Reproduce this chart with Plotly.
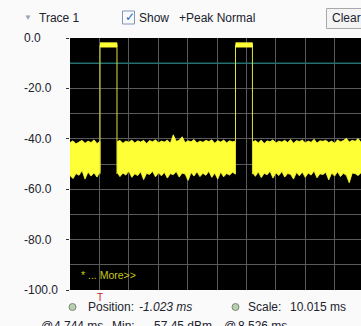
import numpy as np
import plotly.graph_objects as go

# ---------------- data ----------------
x_position_ms = -1.023          # left edge of the time window
x_scale_ms = 10.015            # full width (10 divisions)
y_tick_vals = [0, -20, -40, -60, -80, -100]
y_tick_text = ["0.0", "-20.0", "-40.0", "-60.0", "-80.0", "-100.0"]
threshold_db = -10.0

# bursts (GSM time slots)
pulse_start_ms = [0.0, 4.615]
pulse_end_ms = [0.577, 5.192]
pulse_top_db = [-1.9, -1.9]
pulse_bot_db = [-3.6, -3.6]

# noise floor envelope, segment 1 (before burst 1)
seg1_range = (-1.023, 0.0, 11)
seg1_upper = [-41.5, -40.8, -42.0, -41.2, -40.6, -41.8, -40.9, -41.5, -40.4, -41.9, -41.0]
seg1_lower = [-54.6, -55.8, -53.8, -54.5, -52.6, -56.0, -53.2, -54.8, -53.5, -55.2, -53.0]

# segment 2 (between bursts)
seg2_range = (0.577, 4.615, 41)
seg2_upper = [-41.2, -40.6, -41.8, -40.9, -41.4, -40.5, -41.7, -40.8, -41.3, -40.6,
              -41.9, -40.7, -41.2, -40.4, -41.6, -40.9, -41.3, -40.5, -41.8, -38.4,
              -41.0, -40.6, -39.2, -41.5, -40.8, -41.2, -40.3, -41.7, -40.9, -41.4,
              -40.6, -41.1, -40.4, -41.8, -40.7, -41.3, -40.5, -41.6, -40.8, -41.2, -40.9]
seg2_lower = [-53.2, -55.0, -53.6, -54.4, -52.8, -55.3, -53.9, -54.6, -53.1, -56.2,
              -53.7, -54.2, -52.9, -55.1, -53.5, -54.7, -53.3, -55.6, -53.8, -54.3,
              -53.0, -55.2, -53.6, -54.0, -56.5, -53.4, -54.8, -53.1, -55.0, -53.7,
              -54.5, -52.9, -55.3, -53.6, -56.0, -53.2, -55.1, -53.8, -54.4, -53.3, -54.0]

# segment 3 (after burst 2)
seg3_range = (5.192, 8.89, 38)
seg3_upper = [-41.3, -40.7, -41.6, -40.5, -41.9, -40.8, -41.2, -40.4, -41.7, -40.9,
              -41.3, -40.6, -41.5, -40.3, -41.8, -40.7, -41.1, -40.5, -41.6, -40.9,
              -41.4, -40.2, -41.7, -40.8, -41.0, -40.6, -41.5, -40.9, -41.8, -40.4,
              -41.2, -40.7, -39.8, -41.3, -40.6, -41.0, -39.9, -41.4]
seg3_lower = [-53.4, -54.9, -53.1, -55.4, -53.7, -54.3, -52.9, -55.6, -53.5, -54.6,
              -53.0, -55.2, -53.8, -54.1, -56.0, -53.4, -54.7, -53.2, -55.3, -53.6,
              -54.4, -52.8, -55.5, -53.9, -54.2, -53.3, -56.3, -53.6, -54.8, -53.1,
              -55.0, -53.7, -54.5, -57.45, -53.6, -53.8, -54.6, -53.5]

# ---------------- layout geometry ----------------
W, H = 361, 326
ML, MR, MT, MB = 70, 0, 38, 36
PW, PH = W - ML - MR, H - MT - MB
DIV_PX = 29.4
x_end = x_position_ms + PW / DIV_PX * (x_scale_ms / 10)


def px(x):
    return (x - ML) / PW


def py(y):
    return (H - MB - y) / PH


YEL = "#ffff36"
fig = go.Figure()

# threshold line
fig.add_trace(go.Scatter(x=[x_position_ms, x_end], y=[threshold_db, threshold_db], mode="lines",
                         line=dict(color="#23706e", width=1.5), hoverinfo="skip"))

# noise floor bands
for (a, b, n), up, lo in [(seg1_range, seg1_upper, seg1_lower),
                          (seg2_range, seg2_upper, seg2_lower),
                          (seg3_range, seg3_upper, seg3_lower)]:
    t = list(np.linspace(a, b, n))
    fig.add_trace(go.Scatter(x=t + t[::-1], y=up + lo[::-1], fill="toself", fillcolor=YEL,
                             mode="lines", line=dict(color=YEL, width=0.8), hoverinfo="skip"))

# bursts
for s, e, top, bot in zip(pulse_start_ms, pulse_end_ms, pulse_top_db, pulse_bot_db):
    fig.add_trace(go.Scatter(x=[s, s, e, e], y=[-54.0, (top + bot) / 2, (top + bot) / 2, -54.0],
                             mode="lines", line=dict(color="#e0e030", width=1), hoverinfo="skip"))
    fig.add_trace(go.Scatter(x=[s, e, e, s], y=[top, top, bot, bot], fill="toself", fillcolor=YEL,
                             mode="lines", line=dict(color=YEL, width=0.8), hoverinfo="skip"))

FONT = "Liberation Sans"
TXT = "#20222e"
ann = []
for v, t in zip(y_tick_vals, y_tick_text):
    ann.append(dict(x=px(22), xref="paper", y=v, yref="y", text=t, showarrow=False,
                    xanchor="left", yanchor="middle", font=dict(family=FONT, size=12, color=TXT)))


def label(x, y, text, size=12, color=TXT, italic=False, anchor="left"):
    if italic:
        text = "<i>" + text + "</i>"
    ann.append(dict(x=px(x), xref="paper", y=py(y), yref="paper", text=text, showarrow=False,
                    xanchor=anchor, yanchor="middle", font=dict(family=FONT, size=size, color=color)))


# top bar
label(22, 17, "▼", size=8, color="#9aa4ae")
label(37, 18, "Trace 1", size=12)
label(137, 18, "Show", size=12)
label(177, 18, "+Peak Normal", size=12)
label(330, 18, "Clear", size=12)
label(123, 17, "✓", size=12, color="#2f6fbf")

# inside plot
label(79, 275, "* ... More>>", size=10.5, color="#c8c81a")

# trigger marker
ann.append(dict(x=0.0, xref="x", y=py(290), yref="paper", text="T", showarrow=False,
                xanchor="center", yanchor="top", font=dict(family=FONT, size=10, color="#c81e1e")))

# bottom rows
label(86, 307, "Position:", size=12)
label(137, 307, "-1.023 ms", size=12, italic=True)
label(246, 307, "Scale:", size=12)
label(288, 307, "10.015 ms", size=12)
label(39, 326, "@", size=12)
label(52, 326, "4.744 ms", size=12)
label(110, 326, "Min:", size=12)
label(148, 326, "-57.45 dBm", size=12)
label(222, 326, "@", size=12)
label(236, 326, "8.526 ms", size=12)

shapes = [
    # checkbox
    dict(type="rect", xref="paper", yref="paper", x0=px(122.5), x1=px(134.5), y0=py(24), y1=py(11),
         line=dict(color="#7c98b8", width=1), fillcolor="rgba(255,255,255,0)"),
    # clear button
    dict(type="rect", xref="paper", yref="paper", x0=px(326.5), x1=px(366), y0=py(28.5), y1=py(8.5),
         line=dict(color="#a8a8a8", width=1), fillcolor="rgba(240,240,240,0.6)", layer="below"),
    # icons
    dict(type="circle", xref="paper", yref="paper", x0=px(69), x1=px(76), y0=py(310.5), y1=py(303.5),
         line=dict(color="#7a8a7a", width=1), fillcolor="#b8d0b0"),
    dict(type="circle", xref="paper", yref="paper", x0=px(232), x1=px(239), y0=py(310.5), y1=py(303.5),
         line=dict(color="#7a8a7a", width=1), fillcolor="#b8d0b0"),
]

fig.update_layout(
    width=W, height=H, margin=dict(l=ML, r=MR, t=MT, b=MB, autoexpand=False),
    paper_bgcolor="#fafafa", plot_bgcolor="#000000", showlegend=False,
    annotations=ann, shapes=shapes,
    xaxis=dict(range=[x_position_ms, x_end], tick0=x_position_ms, dtick=x_scale_ms / 10,
               showgrid=True, gridcolor="#5a5a5a", gridwidth=1, zeroline=False,
               showticklabels=False, ticks="", fixedrange=True),
    yaxis=dict(range=[-100, 0], tickmode="array", tickvals=y_tick_vals, ticktext=[""] * len(y_tick_vals),
               ticks="outside", ticklen=3, tickcolor="#333333", showticklabels=False,
               showgrid=True, gridcolor="#5a5a5a", gridwidth=1, zeroline=False,
               minor=dict(dtick=10, tick0=0, showgrid=True, gridcolor="#5a5a5a", gridwidth=1, ticks=""),
               automargin=False, fixedrange=True),
)

fig.write_html("out.html", config={"displayModeBar": False},
               post_script="document.body.style.margin='0';document.body.style.overflow='hidden';"
                           "document.documentElement.style.overflow='hidden';")
